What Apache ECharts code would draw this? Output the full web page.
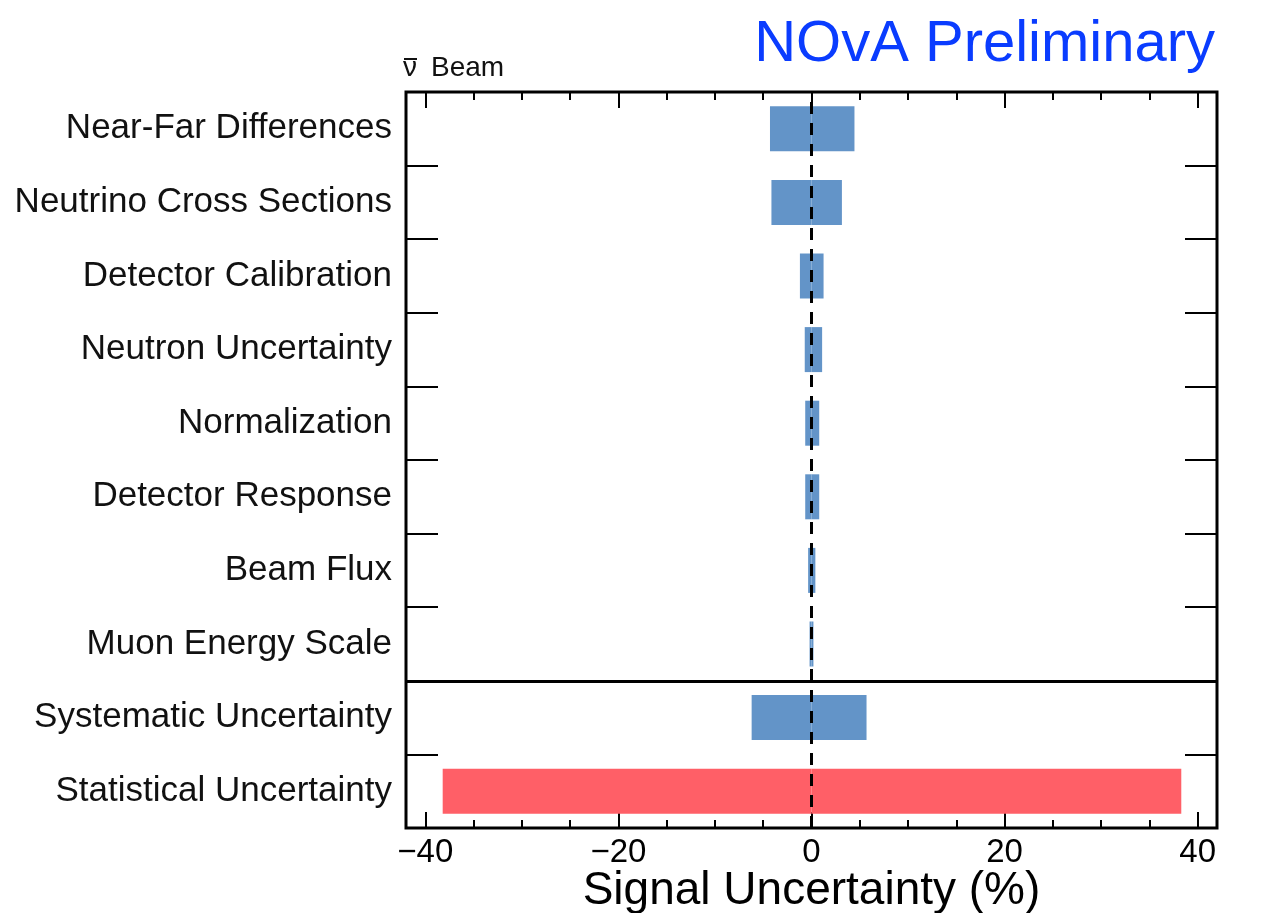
<!DOCTYPE html>
<html>
<head>
<meta charset="utf-8">
<script src="https://cdn.jsdelivr.net/npm/echarts@6/dist/echarts.min.js"></script>
<style>html,body{margin:0;padding:0;background:#fff;}#c{width:1276px;height:913px;}</style>
</head>
<body>
<div id="c"></div>
<script>
// ---- data ----
const categories = [
  'Near-Far Differences',
  'Neutrino Cross Sections',
  'Detector Calibration',
  'Neutron Uncertainty',
  'Normalization',
  'Detector Response',
  'Beam Flux',
  'Muon Energy Scale',
  'Systematic Uncertainty',
  'Statistical Uncertainty'
];
const lowValues  = [-4.3, -4.15, -1.2, -0.7, -0.65, -0.65, -0.35, -0.2, -6.2, -38.2];
const highValues = [4.45, 3.15, 1.25, 1.1, 0.8, 0.8, 0.4, 0.2, 5.7, 38.3];
const barKinds = ['sys','sys','sys','sys','sys','sys','sys','sys','sys','stat'];
const majorTicks = [-40, -20, 0, 20, 40];
const minorTicks = [-40,-35,-30,-25,-20,-15,-10,-5,0,5,10,15,20,25,30,35,40];
const separatorRowsFromBottom = 2;

const FONT = "'Liberation Sans', Arial, Helvetica, sans-serif";
const BLUE = '#6394C8';
const RED = '#FF5F67';
const colorOf = k => (k === 'stat' ? RED : BLUE);

const chart = echarts.init(document.getElementById('c'));
const X_MIN = -42, X_MAX = 42;
const fmt = v => (v < 0 ? '\u2212' + Math.abs(v) : String(v));

function xAx(pos, ticks, len, withLabel) {
  return {
    type: 'value', position: pos, min: X_MIN, max: X_MAX,
    axisLine: { show: false, onZero: false },
    splitLine: { show: false },
    axisTick: { show: true, inside: true, length: len, customValues: ticks,
      lineStyle: { color: '#000', width: 2 } },
    axisLabel: withLabel ? { show: true, customValues: majorTicks, formatter: fmt,
      fontFamily: FONT, fontSize: 33, color: '#000', margin: 8 } : { show: false },
    name: withLabel ? 'Signal Uncertainty (%)' : '',
    nameLocation: 'middle', nameGap: 40, nameMoveOverlap: false,
    nameTextStyle: { fontFamily: FONT, fontSize: 46, color: '#000' }
  };
}

const option = {
  backgroundColor: '#fff',
  animation: false,
  title: [
    { text: 'NOvA Preliminary', right: 56, top: 11,
      textStyle: { fontFamily: FONT, fontSize: 58, fontWeight: 'normal', color: '#0A3CFF' } }
  ],
  graphic: [
    { type: 'text', left: 403, top: 54,
      style: { text: '\u03BD', font: "28px 'Liberation Sans', Arial, sans-serif", fill: '#111' } },
    { type: 'text', left: 431, top: 54,
      style: { text: 'Beam', font: "28px 'Liberation Sans', Arial, sans-serif", fill: '#111' } },
    { type: 'line', shape: { x1: 404, y1: 59, x2: 417, y2: 59 },
      style: { stroke: '#111', lineWidth: 2 } }
  ],
  grid: { left: 406, right: 59, top: 92, bottom: 85, show: true, outerBoundsMode: 'none',
    borderColor: '#000', borderWidth: 3, backgroundColor: 'transparent' },
  xAxis: [
    xAx('bottom', majorTicks, 16, true),
    xAx('bottom', minorTicks, 8, false),
    xAx('top', majorTicks, 16, false),
    xAx('top', minorTicks, 8, false)
  ],
  yAxis: [
    { type: 'category', data: categories, inverse: true, position: 'left',
      axisLine: { show: false, onZero: false },
      axisTick: { show: true, inside: true, length: 32, lineStyle: { color: '#000', width: 2 } },
      axisLabel: { fontFamily: FONT, fontSize: 35, color: '#111', margin: 14 },
      splitLine: { show: false } },
    { type: 'value', position: 'right', min: 0, max: categories.length, interval: 1,
      axisLine: { show: false, onZero: false },
      axisTick: { show: true, inside: true, length: 32, lineStyle: { color: '#000', width: 2 } },
      axisLabel: { show: false },
      splitLine: { show: false } }
  ],
  series: [
    { type: 'bar', name: 'low', xAxisIndex: 0, yAxisIndex: 0, barWidth: 45, barGap: '-100%',
      data: lowValues.map((v, i) => ({ value: v, itemStyle: { color: colorOf(barKinds[i]) } })) },
    { type: 'bar', name: 'high', xAxisIndex: 0, yAxisIndex: 0, barWidth: 45, barGap: '-100%',
      data: highValues.map((v, i) => ({ value: v, itemStyle: { color: colorOf(barKinds[i]) } })) },
    { type: 'line', xAxisIndex: 0, yAxisIndex: 1, data: [], z: 10, silent: true,
      markLine: { silent: true, symbol: ['none', 'none'], label: { show: false },
        z: 10,
        data: [
          { xAxis: 0, lineStyle: { color: '#000', width: 3, type: [12, 9] } },
          { yAxis: separatorRowsFromBottom, lineStyle: { color: '#000', width: 3, type: 'solid' } }
        ] } }
  ]
};
chart.setOption(option);
</script>
</body>
</html>
